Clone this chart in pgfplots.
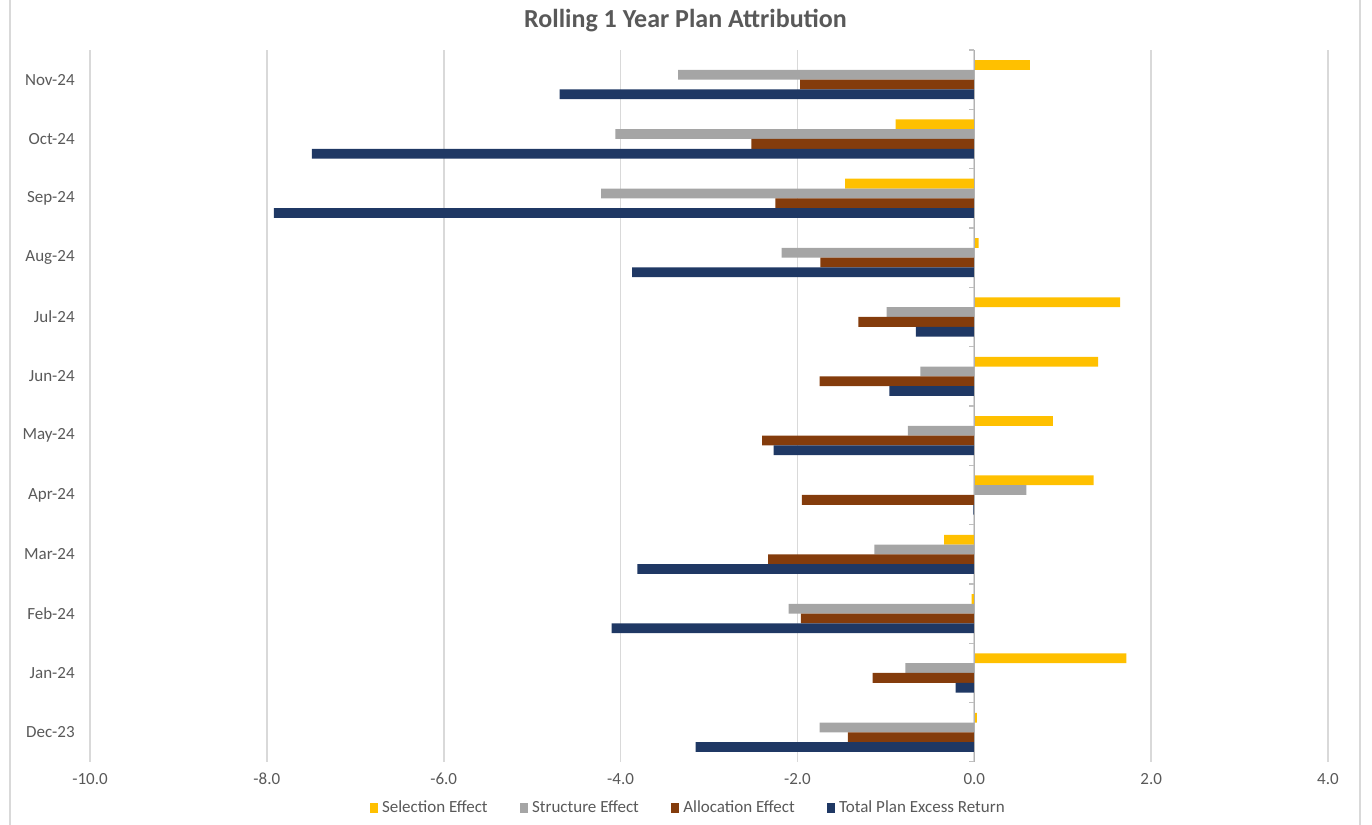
\documentclass[border=0pt]{standalone}
\usepackage{pgfplots}
\pgfplotsset{compat=1.18}
\usepackage{pgfplotstable}
\usepackage{fontspec}
\setmainfont{Carlito}

\definecolor{selc}{HTML}{FFC000}
\definecolor{strc}{HTML}{A5A5A5}
\definecolor{allc}{HTML}{843C0C}
\definecolor{totc}{HTML}{1F3864}
\definecolor{txtc}{HTML}{595959}
\definecolor{gridc}{HTML}{D9D9D9}

% idx 0 = Dec-23 ... 11 = Nov-24
\pgfplotstableread{
idx sel str alloc tot
0 0.03 -1.75 -1.43 -3.15
1 1.72 -0.78 -1.15 -0.21
2 -0.03 -2.10 -1.96 -4.10
3 -0.34 -1.13 -2.33 -3.81
4 1.35 0.59 -1.95 -0.01
5 0.89 -0.75 -2.40 -2.27
6 1.40 -0.61 -1.75 -0.96
7 1.65 -0.99 -1.31 -0.66
8 0.05 -2.18 -1.74 -3.87
9 -1.46 -4.22 -2.25 -7.92
10 -0.89 -4.06 -2.52 -7.49
11 0.63 -3.35 -1.97 -4.69
}\attrib

\begin{document}
\begin{tikzpicture}
\useasboundingbox (-45pt,-31.5pt) rectangle (641pt,381pt);
\draw[gridc, line width=0.6pt] (-40pt,-31.5pt) -- (-40pt,381pt);
\draw[gridc, line width=0.6pt] (635pt,-31.5pt) -- (635pt,381pt);
\begin{axis}[
    scale only axis,
    width=619pt, height=356pt,
    xbar, bar width=0.165,
    xmin=-10, xmax=4,
    ymin=-0.5, ymax=11.5,
    axis lines=left,
    axis line style={draw=none},
    xtick={-10,-8,...,4},
    ytick={0,...,11},
    yticklabels={Dec-23,Jan-24,Feb-24,Mar-24,Apr-24,May-24,Jun-24,Jul-24,Aug-24,Sep-24,Oct-24,Nov-24},
    major tick style={draw=none},
    xmajorgrids,
    grid style={gridc, line width=0.8pt},
    tick label style={font=\fontsize{8.5}{10}\selectfont, text=txtc},
    xticklabel style={/pgf/number format/.cd, fixed, fixed zerofill, precision=1, assume math mode=true},
    yticklabel style={xshift=-2pt},
    title={Rolling 1 Year Plan Attribution},
    title style={font=\fontsize{13}{15}\selectfont\bfseries, text=txtc, at={(0.481,1.0407)}, anchor=center, yshift=-6pt},
    legend columns=4,
    legend style={draw=none, at={(0.484,-0.0646)}, anchor=center,
        font=\fontsize{8.5}{10}\selectfont, text=txtc,
        /tikz/every even column/.append style={column sep=14pt}},
    legend image code/.code={\fill[#1] (0pt,-2.6pt) rectangle (4.2pt,2.6pt);},
]
\addplot[fill=selc, draw=none, bar shift=0.2475] table[x=sel, y=idx] {\attrib};
\addlegendentry{Selection Effect}
\addplot[fill=strc, draw=none, bar shift=0.0825] table[x=str, y=idx] {\attrib};
\addlegendentry{Structure Effect}
\addplot[fill=allc, draw=none, bar shift=-0.0825] table[x=alloc, y=idx] {\attrib};
\addlegendentry{Allocation Effect}
\addplot[fill=totc, draw=none, bar shift=-0.2475] table[x=tot, y=idx] {\attrib};
\addlegendentry{Total Plan Excess Return}
\draw[black!30, line width=0.6pt] (axis cs:0,-0.5) -- (axis cs:0,11.5);
\pgfplotsinvokeforeach{-0.5,0.5,...,11.5}{
  \draw[black!25, line width=0.6pt] (axis cs:0,#1) -- ++(-2.5pt,0pt);
}
\end{axis}
\end{tikzpicture}
\end{document}
